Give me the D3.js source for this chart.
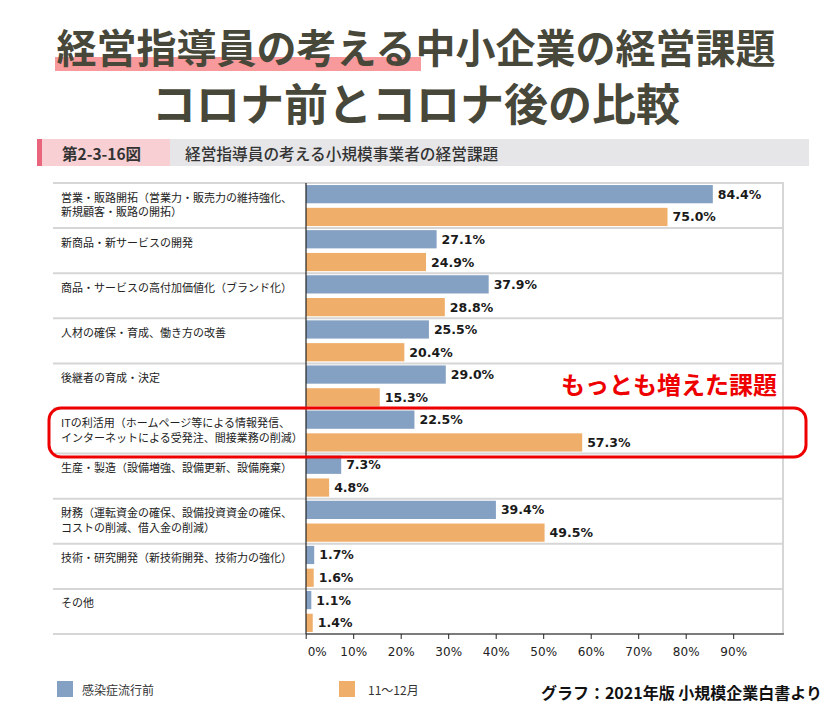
<!DOCTYPE html>
<html><head><meta charset="utf-8">
<script src="https://cdn.jsdelivr.net/npm/d3@7"></script>
<style>
html,body{margin:0;padding:0;background:#fff;}
svg{display:block;}
</style></head>
<body>
<svg id="chart" width="837" height="720"></svg>
<script>
const categories = [
  "営業・販路開拓（営業力・販売力の維持強化、\n新規顧客・販路の開拓）",
  "新商品・新サービスの開発",
  "商品・サービスの高付加価値化（ブランド化）",
  "人材の確保・育成、働き方の改善",
  "後継者の育成・決定",
  "ITの利活用（ホームページ等による情報発信、\nインターネットによる受発注、間接業務の削減）",
  "生産・製造（設備増強、設備更新、設備廃棄）",
  "財務（運転資金の確保、設備投資資金の確保、\nコストの削減、借入金の削減）",
  "技術・研究開発（新技術開発、技術力の強化）",
  "その他"
];
const seriesNames = ["感染症流行前", "11～12月"];
const beforeValues = [84.4, 27.1, 37.9, 25.5, 29.0, 22.5, 7.3, 39.4, 1.7, 1.1];
const afterValues  = [75.0, 24.9, 28.8, 20.4, 15.3, 57.3, 4.8, 49.5, 1.6, 1.4];
const tickValues = [0, 10, 20, 30, 40, 50, 60, 70, 80, 90];
const titleLines = ["経営指導員の考える中小企業の経営課題", "コロナ前とコロナ後の比較"];
const figNumber = "第2-3-16図";
const figTitle = "経営指導員の考える小規模事業者の経営課題";
const calloutText = "もっとも増えた課題";
const highlightIndex = 5;
const sourceText = "グラフ：2021年版 小規模企業白書より";

(function () {
const colors = ["#84a0c2", "#efae69"];
const svg = d3.select("#chart");
const jp = "'Noto Sans CJK JP','Noto Sans',sans-serif";

// Title
svg.append("rect").attr("x", 55).attr("y", 57).attr("width", 366).attr("height", 14).attr("fill", "#f89a9b");
svg.append("text").attr("x", 416).attr("y", 46).attr("text-anchor", "middle").attr("dominant-baseline", "central")
  .attr("font-family", jp).attr("font-weight", 700).attr("font-size", 40).attr("fill", "#47473a").text(titleLines[0]);
svg.append("text").attr("x", 416).attr("y", 102).attr("text-anchor", "middle").attr("dominant-baseline", "central")
  .attr("font-family", jp).attr("font-weight", 700).attr("font-size", 44).attr("fill", "#47473a").text(titleLines[1]);

// Header bar
svg.append("rect").attr("x", 37).attr("y", 139).attr("width", 772).attr("height", 27).attr("fill", "#e6e6e8");
svg.append("rect").attr("x", 37).attr("y", 139).attr("width", 133).attr("height", 27).attr("fill", "#f8d0d3");
svg.append("rect").attr("x", 37).attr("y", 139).attr("width", 5).attr("height", 27).attr("fill", "#e9657b");
svg.append("text").attr("x", 62).attr("y", 153).attr("dominant-baseline", "central")
  .attr("font-family", jp).attr("font-weight", 700).attr("font-size", 15.5).attr("fill", "#333").text(figNumber);
svg.append("text").attr("x", 185).attr("y", 153).attr("dominant-baseline", "central")
  .attr("font-family", jp).attr("font-weight", 500).attr("font-size", 15.7).attr("fill", "#333").text(figTitle);

// Scales
const plotTop = 183, plotBottom = 634, plotLeft = 53, axisX = 306, plotRight = 783;
const x = d3.scaleLinear().domain([0, 100]).range([axisX, axisX + 482]);
const xAxisScale = d3.scaleLinear().domain([0, 100]).range([305.7, 780.7]);
const y = d3.scaleBand().domain(d3.range(categories.length)).range([plotTop, plotBottom]);
const ySub = d3.scaleBand().domain([0, 1]).range([0, y.bandwidth()]).paddingInner(0.2).paddingOuter(0.09);

// Row lines
const rowLines = d3.range(categories.length + 1).map(i => i < categories.length ? y(i) : plotBottom);
svg.append("g").selectAll("line").data(rowLines).join("line")
  .attr("x1", plotLeft).attr("x2", plotRight).attr("y1", d => d).attr("y2", d => d)
  .attr("stroke", "#d6d6d6").attr("stroke-width", 2);
svg.append("line").attr("x1", plotRight).attr("x2", plotRight).attr("y1", plotTop - 1).attr("y2", plotBottom)
  .attr("stroke", "#d6d6d6").attr("stroke-width", 2);

// Category labels
const catG = svg.append("g");
categories.forEach((c, i) => {
  const t = catG.append("text").attr("font-family", jp).attr("font-size", 11).attr("fill", "#222");
  c.split("\n").forEach((line, j) => {
    t.append("tspan").attr("x", 61).attr("y", y(i) + 13.5 + j * 14.5).attr("dominant-baseline", "central").text(line);
  });
});

// Bars
const series = [beforeValues, afterValues];
series.forEach((vals, s) => {
  const g = svg.append("g");
  g.selectAll("rect").data(vals).join("rect")
    .attr("x", x(0)).attr("y", (d, i) => y(i) + ySub(s))
    .attr("width", d => x(d) - x(0)).attr("height", ySub.bandwidth())
    .attr("fill", colors[s]);
  g.selectAll("text").data(vals).join("text")
    .attr("x", d => x(d) + 5).attr("y", (d, i) => y(i) + ySub(s) + ySub.bandwidth() / 2)
    .attr("dominant-baseline", "central")
    .attr("font-family", "'DejaVu Sans',Verdana,sans-serif").attr("font-weight", 700).attr("font-size", 12.5)
    .attr("fill", "#1a1a1a").text(d => d.toFixed(1) + "%");
});

// Axes lines
svg.append("line").attr("x1", axisX).attr("x2", axisX).attr("y1", plotTop).attr("y2", plotBottom).attr("stroke", "#222").attr("stroke-width", 1.2);
svg.append("line").attr("x1", axisX).attr("x2", plotRight + 1).attr("y1", plotBottom).attr("y2", plotBottom).attr("stroke", "#222").attr("stroke-width", 1.2);

const axis = d3.axisBottom(xAxisScale).tickValues(tickValues).tickFormat(d => d + "%").tickSize(5).tickSizeOuter(0).tickPadding(8);
const axG = svg.append("g").attr("transform", `translate(0,${plotBottom})`).call(axis);
axG.select(".domain").remove();
axG.selectAll(".tick line").attr("stroke", "#222");
axG.selectAll(".tick text").attr("font-family", "'DejaVu Sans',Verdana,sans-serif").attr("font-size", 12).attr("fill", "#222")
  .attr("dx", d => d === 0 ? 11 : 0);

// Highlight box and callout
svg.append("rect").attr("x", 49).attr("y", y(highlightIndex) - 0.5).attr("width", 757).attr("height", 49)
  .attr("rx", 12).attr("fill", "none").attr("stroke", "#ee0000").attr("stroke-width", 3);
svg.append("text").attr("x", 777).attr("y", 383).attr("text-anchor", "end").attr("dominant-baseline", "central")
  .attr("font-family", jp).attr("font-weight", 700).attr("font-size", 24).attr("fill", "#ee0000").text(calloutText);

// Legend
const legendX = [57, 339], legendTextX = [82, 368];
seriesNames.forEach((n, s) => {
  svg.append("rect").attr("x", legendX[s]).attr("y", 681).attr("width", 16).attr("height", 16).attr("fill", colors[s]);
  svg.append("text").attr("x", legendTextX[s]).attr("y", 689).attr("dominant-baseline", "central")
    .attr("font-family", jp).attr("font-size", 12).attr("fill", "#333").text(n);
});

// Source
svg.append("text").attr("x", 822).attr("y", 692).attr("text-anchor", "end").attr("dominant-baseline", "central")
  .attr("font-family", jp).attr("font-weight", 700).attr("font-size", 16).attr("fill", "#111").text(sourceText);
})();
</script>
</body></html>
